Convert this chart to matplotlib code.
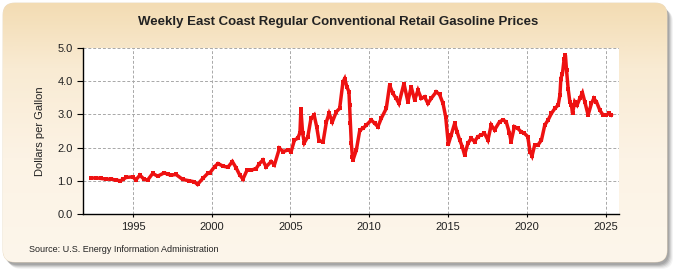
import numpy as np
import matplotlib
matplotlib.use("Agg")
import matplotlib.pyplot as plt
from matplotlib.patches import FancyBboxPatch
from matplotlib.colors import LinearSegmentedColormap

# ---- data (decimal year, dollars per gallon) ----
years = [
    1992.35, 1992.65, 1992.95, 1993.3, 1993.6, 1993.95, 1994.2, 1994.4, 1994.56, 1994.98,
    1995.19, 1995.44, 1995.72, 1995.93, 1996.25, 1996.57, 1996.99, 1997.2, 1997.41, 1997.73,
    1998.16, 1998.58, 1998.9, 1999.1, 1999.43, 1999.74, 1999.87, 2000.19, 2000.4, 2000.72,
    2001.03, 2001.31, 2001.56, 2001.77, 2001.98, 2002.24, 2002.5, 2002.82, 2003.03, 2003.24,
    2003.45, 2003.77, 2003.98, 2004.3, 2004.55, 2004.83, 2005.04, 2005.25, 2005.46, 2005.6,
    2005.66, 2005.77, 2005.88, 2006.1, 2006.3, 2006.5, 2006.66, 2006.81, 2007.07, 2007.28,
    2007.45, 2007.66, 2007.91, 2008.12, 2008.33, 2008.44, 2008.58, 2008.71, 2008.75, 2008.8,
    2008.86, 2008.93, 2008.97, 2009.18, 2009.4, 2009.6, 2009.82, 2010.13, 2010.34, 2010.55,
    2010.76, 2011.08, 2011.29, 2011.5, 2011.71, 2011.88, 2012.2, 2012.45, 2012.66, 2012.88,
    2013.09, 2013.3, 2013.51, 2013.72, 2013.93, 2014.25, 2014.46, 2014.68, 2014.85, 2015.02,
    2015.2, 2015.42, 2015.57, 2015.74, 2015.9, 2016.05, 2016.26, 2016.47, 2016.68, 2016.89,
    2017.1, 2017.31, 2017.53, 2017.74, 2017.95, 2018.27, 2018.48, 2018.69, 2018.9, 2019.0,
    2019.21, 2019.42, 2019.63, 2019.84, 2020.06, 2020.2, 2020.33, 2020.5, 2020.71, 2020.93,
    2021.14, 2021.35, 2021.56, 2021.78, 2021.99, 2022.1, 2022.16, 2022.26, 2022.37, 2022.45,
    2022.52, 2022.62, 2022.73, 2022.83, 2022.9, 2023.04, 2023.19, 2023.36, 2023.53, 2023.68,
    2023.89, 2024.1, 2024.25, 2024.42, 2024.63, 2024.84, 2025.05, 2025.22, 2025.36,
]
prices = [
    1.08, 1.09, 1.07, 1.05, 1.05, 1.02, 1.00, 1.05, 1.10, 1.12,
    1.03, 1.17, 1.04, 1.02, 1.22, 1.14, 1.24, 1.20, 1.17, 1.19,
    1.04, 1.00, 0.97, 0.89, 1.07, 1.22, 1.23, 1.43, 1.52, 1.44,
    1.41, 1.58, 1.38, 1.18, 1.05, 1.32, 1.32, 1.37, 1.52, 1.62,
    1.42, 1.58, 1.48, 1.98, 1.88, 1.93, 1.88, 2.23, 2.28, 2.45,
    3.15, 2.43, 2.15, 2.33, 2.88, 2.98, 2.63, 2.20, 2.18, 2.78,
    3.03, 2.78, 3.08, 3.18, 3.98, 4.08, 3.83, 3.68, 3.28, 2.73,
    2.13, 1.73, 1.63, 1.93, 2.53, 2.58, 2.68, 2.83, 2.73, 2.63,
    2.88, 3.18, 3.88, 3.63, 3.48, 3.33, 3.93, 3.38, 3.83, 3.43,
    3.73, 3.48, 3.53, 3.33, 3.48, 3.68, 3.60, 3.33, 2.93, 2.10,
    2.38, 2.73, 2.48, 2.23, 2.03, 1.78, 2.13, 2.28, 2.18, 2.33,
    2.38, 2.43, 2.23, 2.68, 2.53, 2.78, 2.83, 2.78, 2.43, 2.18,
    2.63, 2.58, 2.48, 2.43, 2.33, 1.88, 1.75, 2.08, 2.08, 2.23,
    2.68, 2.83, 3.03, 3.18, 3.28, 3.58, 4.08, 4.23, 4.68, 4.78,
    4.33, 3.78, 3.38, 3.28, 3.03, 3.38, 3.28, 3.48, 3.65, 3.38,
    2.98, 3.33, 3.48, 3.38, 3.13, 2.98, 2.98, 3.03, 2.98,
]
x_ticks = [1995, 2000, 2005, 2010, 2015, 2020, 2025]
y_ticks = [0.0, 1.0, 2.0, 3.0, 4.0, 5.0]

title = "Weekly East Coast Regular Conventional Retail Gasoline Prices"
ylabel = "Dollars per Gallon"
source = "Source: U.S. Energy Information Administration"

plt.rcParams['font.family'] = ['Liberation Sans', 'DejaVu Sans']

W, H = 675, 275
fig = plt.figure(figsize=(W / 100, H / 100), dpi=100)
fig.patch.set_facecolor('white')

# background panel with shadow and gradient
bg = fig.add_axes([0, 0, 1, 1])
bg.set_xlim(0, W)
bg.set_ylim(H, 0)
bg.axis('off')
BX, BY, BW, BH = 3, 3, 664, 259
for i, a in enumerate([0.08, 0.12, 0.18, 0.26, 0.3]):
    off = 7 - i
    sh = FancyBboxPatch((BX + off - 1, BY + off), BW, BH,
                        boxstyle="round,pad=0,rounding_size=12",
                        facecolor='#7A7A7A', edgecolor='none', alpha=a)
    bg.add_patch(sh)
panel = FancyBboxPatch((BX, BY), BW, BH, boxstyle="round,pad=0,rounding_size=12",
                       facecolor='#FCF3E4', edgecolor='#E9D9BF', linewidth=0.6)
bg.add_patch(panel)
cmap = LinearSegmentedColormap.from_list(
    'bgc', [(0.0, '#F3DCB3'), (0.25, '#F9EBD3'), (0.6, '#FCF3E5'), (1.0, '#FDF6EB')])
grad = np.linspace(0, 1, 256).reshape(-1, 1)
im = bg.imshow(grad, extent=(BX, BX + BW, BY + BH, BY), cmap=cmap, aspect='auto', zorder=1)
im.set_clip_path(panel)

# main axes
ax = fig.add_axes([83 / W, 1 - 214 / H, (619 - 83) / W, (214 - 48) / H])
ax.set_facecolor('white')
ax.plot(years, prices, color='#EE1111', linewidth=2.5, marker='s', markersize=2.4,
        markeredgewidth=0, solid_joinstyle='miter', zorder=3)
ax.set_xlim(1991.83, 2025.85)
ax.set_ylim(0, 5)
ax.set_xticks(x_ticks)
ax.set_yticks(y_ticks)
ax.set_yticklabels([f"{v:.1f}" for v in y_ticks])
ax.grid(True, color='#A8A8A8', linestyle=(0, (3, 2)), linewidth=0.7, zorder=0)
for s in ['top', 'right']:
    ax.spines[s].set_visible(False)
for s in ['left', 'bottom']:
    ax.spines[s].set_color('black')
    ax.spines[s].set_linewidth(1.0)
ax.tick_params(axis='both', labelsize=8, color='black', length=4, width=0.8,
               labelcolor='#222222')
ax.tick_params(axis='x', length=2, pad=4)
ax.set_ylabel(ylabel, fontsize=8, color='#222222', labelpad=9)

fig.text(338 / W, 1 - 22 / H, title, ha='center', va='center',
         fontsize=9.5, fontweight='bold', color='#222222')
fig.text(29 / W, 1 - 249 / H, source, ha='left', va='center', fontsize=6.5,
         color='#222222')

fig.savefig('out.png', dpi=100, facecolor=fig.get_facecolor())
